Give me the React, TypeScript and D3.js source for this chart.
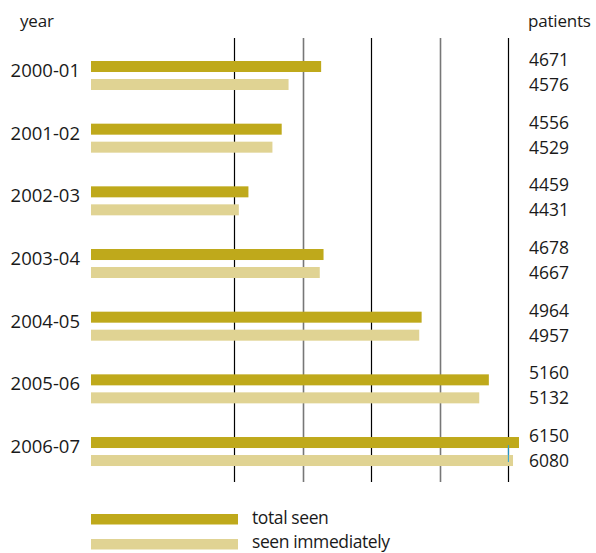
import React from "react";
import * as d3 from "d3";

const years = ["2000-01", "2001-02", "2002-03", "2003-04", "2004-05", "2005-06", "2006-07"];
const totalSeen = [4671, 4556, 4459, 4678, 4964, 5160, 6150];
const seenImmediately = [4576, 4529, 4431, 4667, 4957, 5132, 6080];
const gridValues = [4417, 4617, 4817, 5017, 5217];
const axisStart = 4000;
const breakStart = 5217;
const breakEnd = 6026;
const axisEnd = 6150;

const DARK = "#BFA91B";
const LIGHT = "#E0D393";
const FONT = "'Open Sans', sans-serif";

export default function App() {
  const W = 596;
  const H = 553;
  const x = d3
    .scaleLinear()
    .domain([axisStart, breakStart, breakEnd, axisEnd])
    .range([91, 508.4, 508.4, 519]);
  const y = d3.scaleBand<string>().domain(years).range([61, 61 + 7 * 62.67]).paddingInner(0);
  const barH = 11;
  const gap = 7;

  return (
    <svg
      width={W}
      height={H}
      style={{ position: "absolute", left: 0, top: 0, background: "#fff" }}
      fontFamily={FONT}
    >
      {gridValues.map((g, i) => (
        <line
          key={g}
          x1={Math.round(x(g)) + 0.5}
          x2={Math.round(x(g)) + 0.5}
          y1={38}
          y2={482}
          stroke={i % 2 === 0 ? "#000" : "#777"}
          strokeWidth={i % 2 === 0 ? 1.2 : 1.6}
        />
      ))}
      <text x={20} y={27} fontSize={17} fill="#1a1a1a" letterSpacing={-0.2}>year</text>
      <text x={528} y={27} fontSize={17} fill="#1a1a1a" letterSpacing={-0.2}>patients</text>
      {years.map((yr, i) => {
        const top = y(yr)!;
        return (
          <g key={yr}>
            <rect x={x(axisStart)} y={top} width={x(totalSeen[i]) - x(axisStart)} height={barH} fill={DARK} />
            <rect
              x={x(axisStart)}
              y={top + barH + gap}
              width={x(seenImmediately[i]) - x(axisStart)}
              height={barH}
              fill={LIGHT}
            />
            <text x={80} y={top + 16} fontSize={18.5} textAnchor="end" fill="#1a1a1a">{yr}</text>
            <text x={529} y={top + 5} fontSize={17.5} fill="#1a1a1a">{totalSeen[i]}</text>
            <text x={529} y={top + 30} fontSize={17.5} fill="#1a1a1a">{seenImmediately[i]}</text>
          </g>
        );
      })}
      {(() => {
        const top = y(years[6])!;
        return (
          <line
            x1={x(breakStart)}
            x2={x(breakStart)}
            y1={top + barH - 3}
            y2={top + 2 * barH + gap - 4}
            stroke="#29A3D6"
            strokeWidth={1}
          />
        );
      })()}
      <rect x={91} y={514} width={147} height={10.5} fill={DARK} />
      <rect x={91} y={539} width={147} height={10.5} fill={LIGHT} />
      <text x={252} y={524} fontSize={17.5} fill="#1a1a1a" letterSpacing={-0.4}>total seen</text>
      <text x={252} y={548} fontSize={17.5} fill="#1a1a1a" letterSpacing={-0.4}>seen immediately</text>
    </svg>
  );
}
